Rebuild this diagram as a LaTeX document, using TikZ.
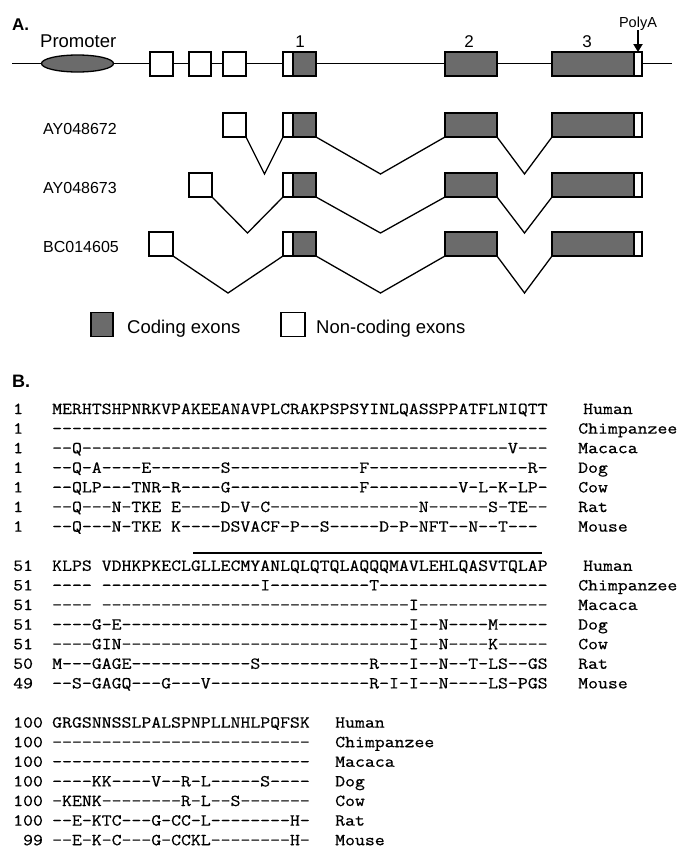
\documentclass[tikz,border=0pt]{standalone}
\usepackage{fontspec}
\setmainfont{Liberation Sans}
\newfontfamily\seqfont[FakeStretch=1.15,FakeBold=0.6,Ligatures=TeXOff]{Latin Modern Mono}
\usetikzlibrary{shapes.geometric,arrows.meta}
\definecolor{exgray}{HTML}{6B6B6B}
\ExplSyntaxOn
\cs_new:Npn \dsh #1 {\prg_replicate:nn{#1}{-}}
\ExplSyntaxOff
\newcommand\gp{\hphantom{-}}
\tikzset{
  exon/.style={draw=black, line width=1.3pt, fill=exgray, minimum height=24, inner sep=0, outer sep=0},
  ncex/.style={exon, fill=white},
  intron/.style={line width=1.3pt, line join=miter},
  sanslbl/.style={font=\fontsize{16}{18}\selectfont, inner sep=0, anchor=base west},
  bigsans/.style={font=\fontsize{18.5}{20}\selectfont, inner sep=0, anchor=base west},
  numlbl/.style={font=\fontsize{17}{18}\selectfont, inner sep=0, anchor=base},
  panel/.style={font=\bfseries\fontsize{17}{18}\selectfont, inner sep=0, anchor=base west},
  seqt/.style={font=\seqfont\fontsize{16.73}{18}\selectfont, inner sep=0, anchor=base west},
}
\newcommand\ebox[5]{\node[#5, minimum width={#3-#2}] (#1) at ({(#2+#3)/2},#4) {};}
\newcommand\seqrow[6]{%
  \node[seqt] (n#1) at (13,{414+19.6*#2}) {#3};
  \node[seqt] (s#1) at (52,{414+19.6*#2}) {#4};
  \node[seqt] (l#1) at (#6,{414+19.6*#2}) {#5};}
\begin{document}
\begin{tikzpicture}[x=1pt,y=-1pt]
\fill[white] (0,0) rectangle (681,857);
\useasboundingbox (0,0) rectangle (681,857);

% ---------- Panel A ----------
\node[panel] (pA) at (12,30) {A.};
\coordinate (mL) at (12,63.5);
\coordinate (mR) at (672,63.5);
\draw[line width=1.3pt] (mL) -- (mR);
\node[ellipse, draw=black, line width=1.3pt, fill=exgray, minimum width=72, minimum height=17, inner sep=0] (prom) at (77.5,63.5) {};
\node[bigsans] (promt) at (40,47) {Promoter};
\ebox{m1}{150}{173}{64}{ncex}
\ebox{m2}{189}{211}{64}{ncex}
\ebox{m3}{223}{246}{64}{ncex}
\ebox{me1w}{283}{293}{64}{ncex}
\ebox{me1g}{293}{316}{64}{exon}
\ebox{me2}{445}{497}{64}{exon}
\ebox{me3g}{552}{634}{64}{exon}
\ebox{me3w}{634}{642}{64}{ncex}
\node[numlbl] (k1) at (300,47) {1};
\node[numlbl] (k2) at (469,47) {2};
\node[numlbl] (k3) at (587,47) {3};
\node[numlbl, font=\fontsize{14.5}{16}\selectfont] (pa) at (638,27) {PolyA};
\draw[line width=2.2pt, -{Triangle[length=8pt,width=9pt]}] (pa.south) -- (me3w.north);

% transcript 1
\node[sanslbl] (t1) at (43,134) {AY048672};
\ebox{a0}{223}{246}{125}{ncex}
\ebox{a1w}{283}{293}{125}{ncex}
\ebox{a1g}{293}{316}{125}{exon}
\ebox{a2}{445}{497}{125}{exon}
\ebox{a3g}{552}{634}{125}{exon}
\ebox{a3w}{634}{642}{125}{ncex}
\coordinate (av1) at (264.5,174);
\coordinate (av2) at (380.5,174);
\coordinate (av3) at (524.5,174);
\draw[intron] (a0.south east) -- (av1) -- (a1w.south west);
\draw[intron] (a1g.south east) -- (av2) -- (a2.south west);
\draw[intron] (a2.south east) -- (av3) -- (a3g.south west);

% transcript 2
\node[sanslbl] (t2) at (43,193) {AY048673};
\ebox{b0}{189}{212}{185}{ncex}
\ebox{b1w}{283}{293}{185}{ncex}
\ebox{b1g}{293}{316}{185}{exon}
\ebox{b2}{445}{497}{185}{exon}
\ebox{b3g}{552}{634}{185}{exon}
\ebox{b3w}{634}{642}{185}{ncex}
\coordinate (bv1) at (247.5,233);
\coordinate (bv2) at (380.5,233);
\coordinate (bv3) at (524.5,233);
\draw[intron] (b0.south east) -- (bv1) -- (b1w.south west);
\draw[intron] (b1g.south east) -- (bv2) -- (b2.south west);
\draw[intron] (b2.south east) -- (bv3) -- (b3g.south west);

% transcript 3
\node[sanslbl] (t3) at (43,252) {BC014605};
\ebox{c0}{149}{173}{244}{ncex}
\ebox{c1w}{283}{293}{244}{ncex}
\ebox{c1g}{293}{316}{244}{exon}
\ebox{c2}{445}{497}{244}{exon}
\ebox{c3g}{552}{634}{244}{exon}
\ebox{c3w}{634}{642}{244}{ncex}
\draw[line width=2.2pt] (c3w.north east) -- (c3w.south east);
\coordinate (cv1) at (228,293);
\coordinate (cv2) at (380.5,293);
\coordinate (cv3) at (524.5,293);
\draw[intron] (c0.south east) -- (cv1) -- (c1w.south west);
\draw[intron] (c1g.south east) -- (cv2) -- (c2.south west);
\draw[intron] (c2.south east) -- (cv3) -- (c3g.south west);

% legend
\ebox{lg}{91}{113}{324.5}{exon}
\node[bigsans] (lgt) at (127,333) {Coding exons};
\ebox{lw}{281}{305}{324.5}{ncex}
\node[bigsans] (lwt) at (316,333) {Non-coding exons};

% ---------- Panel B ----------
\node[panel, font=\bfseries\fontsize{18}{18}\selectfont] (pB) at (12,387) {B.};

\seqrow{h1}{0}{1}{MERHTSHPNRKVPAKEEANAVPLCRAKPSPSYINLQASSPPATFLNIQTT}{Human}{583}
\seqrow{c1}{1}{1}{\dsh{50}}{Chimpanzee}{578}
\seqrow{m1}{2}{1}{--Q\dsh{43}V---}{Macaca}{578}
\seqrow{d1}{3}{1}{--Q-A----E\dsh{7}S\dsh{13}F\dsh{16}R-}{Dog}{578}
\seqrow{w1}{4}{1}{--QLP---TNR-R----G\dsh{13}F\dsh{9}V-L-K-LP-}{Cow}{578}
\seqrow{r1}{5}{1}{--Q---N-TKE\gp E----D-V-C\dsh{15}N\dsh{6}S-TE--}{Rat}{578}
\seqrow{u1}{6}{1}{--Q---N-TKE\gp K----DSVACF-P--S-----D-P-NFT--N--T---}{Mouse}{578}

\coordinate (ovA) at (193.4,553);
\coordinate (ovB) at (542,553);
\draw[line width=2pt] (ovA) -- (ovB);

\seqrow{h2}{8}{51}{KLPS\gp VDHKPKECLGLLECMYANLQLQTQLAQQQMAVLEHLQASVTQLAP}{Human}{583}
\seqrow{c2}{9}{51}{----\gp\dsh{16}I\dsh{10}T\dsh{17}}{Chimpanzee}{578}
\seqrow{m2}{10}{51}{----\gp\dsh{31}I\dsh{13}}{Macaca}{578}
\seqrow{d2}{11}{51}{----G-E\dsh{29}I--N----M-----}{Dog}{578}
\seqrow{w2}{12}{51}{----GIN\dsh{29}I--N----K-----}{Cow}{578}
\seqrow{r2}{13}{50}{M---GAGE\dsh{12}S\dsh{11}R---I--N--T-LS--GS}{Rat}{578}
\seqrow{u2}{14}{49}{--S-GAGQ---G---V\dsh{16}R-I-I--N----LS-PGS}{Mouse}{578}

\seqrow{h3}{16}{100}{GRGSNNSSLPALSPNPLLNHLPQFSK}{Human}{335}
\seqrow{c3}{17}{100}{\dsh{26}}{Chimpanzee}{335}
\seqrow{m3}{18}{100}{\dsh{26}}{Macaca}{335}
\seqrow{d3}{19}{100}{----KK----V--R-L-----S----}{Dog}{335}
\seqrow{w3}{20}{100}{-KENK--------R-L--S-------}{Cow}{335}
\seqrow{r3}{21}{100}{--E-KTC---G-CC-L\dsh{8}H-}{Rat}{335}
\seqrow{u3}{22}{\gp99}{--E-K-C---G-CCKL\dsh{8}H-}{Mouse}{335}
\end{tikzpicture}
\end{document}
